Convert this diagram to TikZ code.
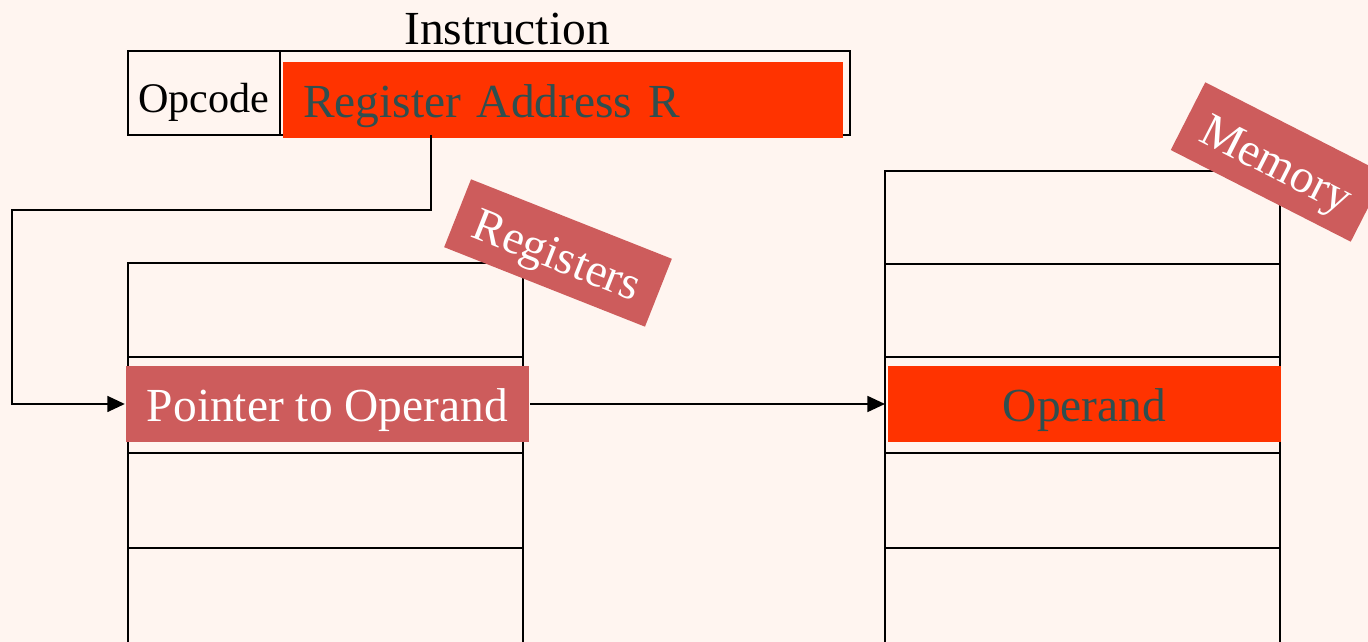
\documentclass[tikz,border=0pt]{standalone}
\usepackage{fontspec}
\setmainfont{Liberation Serif}
\usetikzlibrary{arrows.meta}
\definecolor{paper}{RGB}{255,245,240}
\definecolor{hotred}{RGB}{255,51,0}
\definecolor{tagred}{RGB}{205,92,92}
\definecolor{slate}{RGB}{47,79,79}

\begin{document}
\begin{tikzpicture}[line width=0.65pt, >={Triangle[length=5pt,width=4.5pt]},
    big/.style={font=\fontsize{13.5}{16}\selectfont},
    field/.style={fill=hotred, text=slate, inner sep=0, big, text height=12.8pt, text depth=3pt},
    tag/.style={fill=tagred, text=white, inner sep=0, big, text height=12.8pt, text depth=3pt}]
    % Background
    \fill[paper] (0,0) rectangle (13.68,-6.42);
    \useasboundingbox (0,0) rectangle (13.68,-6.42);

    % Instruction word
    \node[big] (instrlbl) at (5.07,-0.29) {Instruction};
    \node[draw, minimum width=7.22cm, minimum height=0.84cm, inner sep=0] (instr) at (4.89,-0.93) {};
    \node[draw, minimum width=1.52cm, minimum height=0.84cm, inner sep=0,
          text height=13.8pt, text depth=2.6pt,
          font=\fontsize{12}{14}\selectfont] (opcode) at (2.04,-0.93) {Opcode};
    \node[field, minimum width=5.60cm, minimum height=0.76cm, text width=5.20cm,
          inner xsep=0.2cm, align=left] (regaddr) at (5.63,-1.00) {Register Address R};

    % Register file
    \draw (1.28,-6.42) |- (5.23,-2.63) -- (5.23,-6.42);
    \foreach \y in {-3.57,-4.53,-5.48}
        \draw (1.28,\y) -- (5.23,\y);

    % Memory
    \draw (8.85,-6.42) |- (12.80,-1.71) -- (12.80,-6.42);
    \foreach \y in {-2.64,-3.57,-4.53,-5.48}
        \draw (8.85,\y) -- (12.80,\y);

    % Cells
    \node[tag, minimum width=4.03cm, minimum height=0.76cm] (ptr) at (3.275,-4.04) {Pointer to Operand};
    \node[field, minimum width=3.93cm, minimum height=0.76cm] (opnd) at (10.845,-4.04) {Operand};

    % Tags
    \node[tag, rotate=-21.6, minimum width=2.16cm, minimum height=0.73cm] (reglbl) at (5.58,-2.53) {Registers};
    \node[tag, rotate=-27, minimum width=2.02cm, minimum height=0.76cm] (memlbl) at (12.78,-1.62) {Memory};

    % Connections
    \coordinate (tap) at (4.31,-1.35);
    \coordinate (bend) at (0.12,-2.10);
    \draw[->] (tap) |- (bend) |- (ptr.west);
    \draw[->] (ptr.east) -- (8.85,-4.04);
\end{tikzpicture}
\end{document}
